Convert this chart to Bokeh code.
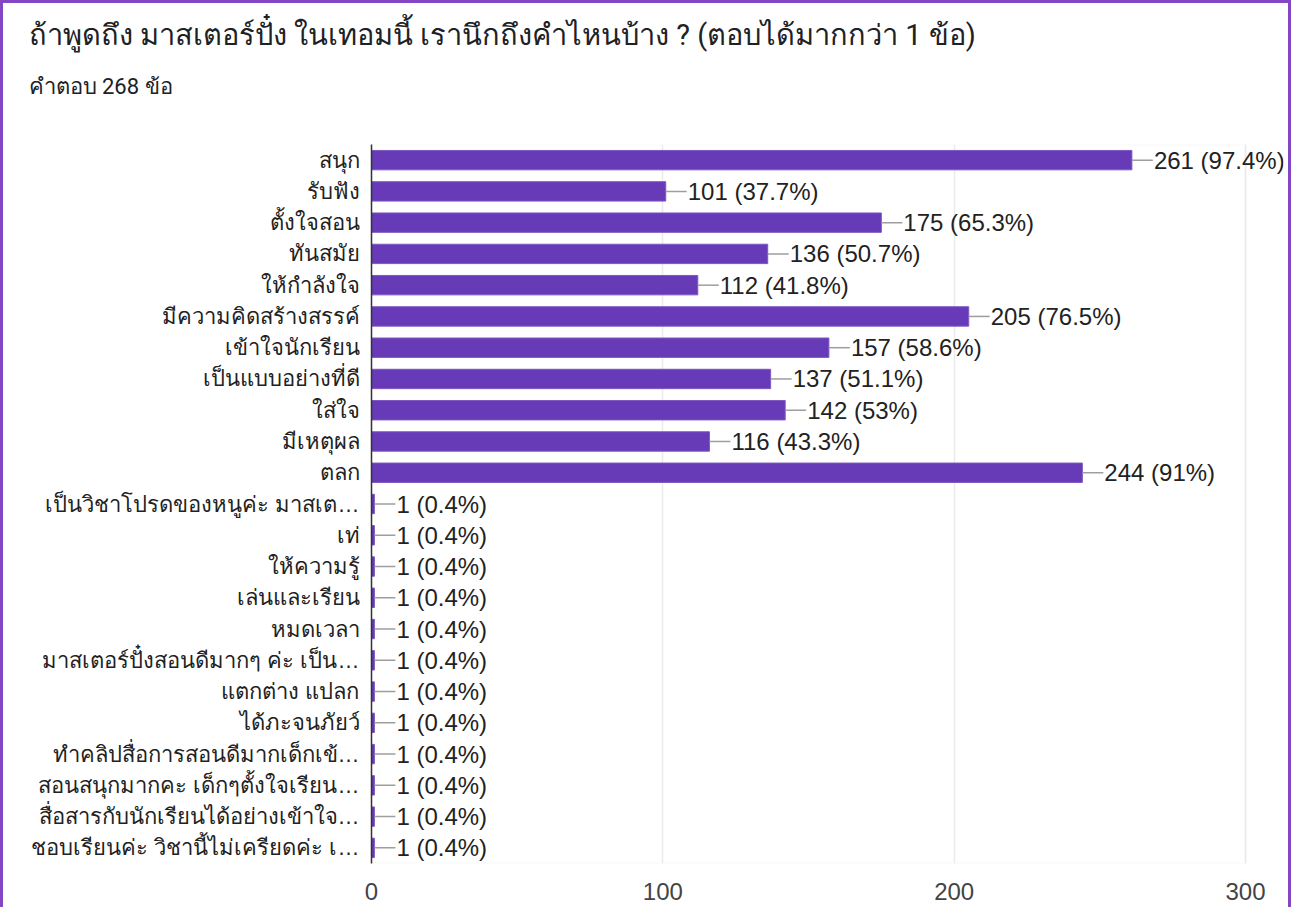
from bokeh.plotting import figure
from bokeh.models import FactorRange, ColumnDataSource, FixedTicker, Title, BoxAnnotation
from bokeh.embed import file_html
from bokeh.resources import INLINE
from bokeh.core.properties import value

categories = [
    "สนุก", "รับฟัง", "ตั้งใจสอน", "ทันสมัย", "ให้กำลังใจ", "มีความคิดสร้างสรรค์",
    "เข้าใจนักเรียน", "เป็นแบบอย่างที่ดี", "ใส่ใจ", "มีเหตุผล", "ตลก",
    "เป็นวิชาโปรดของหนูค่ะ มาสเต…", "เท่", "ให้ความรู้", "เล่นและเรียน", "หมดเวลา",
    "มาสเตอร์ปั๋งสอนดีมากๆ ค่ะ เป็น…", "แตกต่าง แปลก", "ได้ภะจนภัยว์",
    "ทำคลิปสื่อการสอนดีมากเด็กเข้…", "สอนสนุกมากคะ เด็กๆตั้งใจเรียน…",
    "สื่อสารกับนักเรียนได้อย่างเข้าใจ…", "ชอบเรียนค่ะ วิชานี้ไม่เครียดค่ะ เ…",
]
counts = [261, 101, 175, 136, 112, 205, 157, 137, 142, 116, 244,
          1, 1, 1, 1, 1, 1, 1, 1, 1, 1, 1, 1]
percents = ["97.4%", "37.7%", "65.3%", "50.7%", "41.8%", "76.5%", "58.6%", "51.1%",
            "53%", "43.3%", "91%", "0.4%", "0.4%", "0.4%", "0.4%", "0.4%", "0.4%",
            "0.4%", "0.4%", "0.4%", "0.4%", "0.4%", "0.4%"]
x_ticks = [0, 100, 200, 300]
x_max = 300

title_text = "ถ้าพูดถึง มาสเตอร์ปั๋ง ในเทอมนี้ เรานึกถึงคำไหนบ้าง ? (ตอบได้มากกว่า 1 ข้อ)"
subtitle_text = "คำตอบ 268 ข้อ"

FONT = "'Liberation Sans', Arial, sans-serif"
TFONT = "Roboto, 'Liberation Sans', sans-serif"

labels = [f"{c} ({p})" for c, p in zip(counts, percents)]
lead_end = [c + 7.2 for c in counts]
src = ColumnDataSource(dict(cat=categories, val=counts, lab=labels, lead=lead_end))

W, H = 1291, 907
# frame spans 371..1283 (canvas px); axis 0..300 occupies 874 px
px_per_unit = 874 / x_max
x_end = x_max + (1283 - 1245) / px_per_unit

p = figure(width=W, height=H, output_backend="svg", toolbar_location=None,
           y_range=FactorRange(factors=list(reversed(categories)), range_padding=0),
           x_range=(0, x_end),
           min_border_left=368, min_border_right=11, min_border_top=141, min_border_bottom=47)

p.add_layout(BoxAnnotation(left=0, right=x_max, fill_alpha=0, line_color="#e8e8e8",
                           line_width=2, level="underlay"))
p.hbar(y="cat", right="val", left=0, height=0.62, source=src,
       fill_color="#673ab7", line_color="#7e57c2", line_width=1)
p.segment(x0="val", x1="lead", y0="cat", y1="cat", source=src,
          line_color="#9e9e9e", line_width=1.5)
p.text(x="val", y="cat", text="lab", source=src, x_offset=22,
       text_baseline="middle", text_align="left", text_font_size="24px",
       text_color="#222222", text_font=value(FONT))

p.xaxis.ticker = FixedTicker(ticks=x_ticks)
p.xaxis.axis_line_color = None
p.xaxis.major_tick_line_color = None
p.xaxis.minor_tick_line_color = None
p.xaxis.major_label_text_font_size = "24px"
p.xaxis.major_label_text_color = "#444444"
p.xaxis.major_label_text_font = FONT
p.xaxis.major_label_standoff = 13

p.yaxis.axis_line_color = "#333333"
p.yaxis.axis_line_width = 1.5
p.yaxis.major_tick_line_color = None
p.yaxis.minor_tick_line_color = None
p.yaxis.major_label_text_font_size = "22px"
p.yaxis.major_label_text_color = "#222222"
p.yaxis.major_label_text_font = FONT
p.yaxis.major_label_standoff = 6

p.xgrid.grid_line_color = "#ebebeb"
p.xgrid.grid_line_width = 1.5
p.ygrid.grid_line_color = None
p.outline_line_color = None

p.add_layout(Title(text=subtitle_text, align="left", offset=25 - 368,
                   text_font_size="22px", text_color="#202124", text_font=TFONT,
                   text_font_style="normal", standoff=91), "above")
p.add_layout(Title(text=title_text, align="left", offset=25 - 368,
                   text_font_size="29px", text_color="#202124", text_font=TFONT,
                   text_font_style="normal", standoff=-50), "above")

p.styles = {"border-left": "3px solid #8447c4", "border-top": "3px solid #8447c4",
            "border-right": "3px solid #8447c4", "box-sizing": "border-box"}

open("out.html", "w").write(file_html(p, INLINE))
